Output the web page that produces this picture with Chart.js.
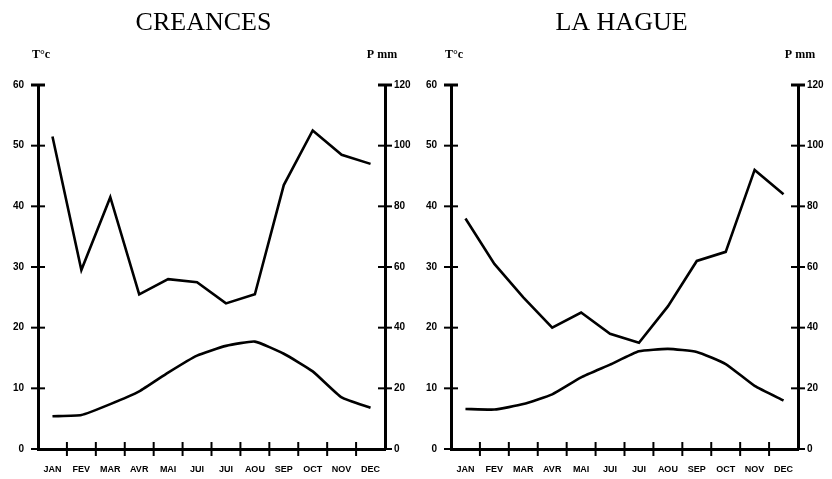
<!DOCTYPE html>
<html>
<head>
<meta charset="utf-8">
<script src="https://cdn.jsdelivr.net/npm/chart.js@4.4.1/dist/chart.umd.min.js"></script>
<style>
  html, body { margin: 0; padding: 0; background: #fff; }
  #wrap { position: relative; width: 832px; height: 479px; }
  canvas { position: absolute; top: 0; }
</style>
</head>
<body>
<div id="wrap">
  <canvas id="creances" width="416" height="479" style="left:0"></canvas>
  <canvas id="hague" width="416" height="479" style="left:416px"></canvas>
</div>
<script>
const months = ['JAN', 'FEV', 'MAR', 'AVR', 'MAI', 'JUI', 'JUI', 'AOU', 'SEP', 'OCT', 'NOV', 'DEC'];

const creancesTemp = [5.4, 5.6, 7.4, 9.5, 12.6, 15.4, 17.0, 17.7, 15.7, 12.8, 8.5, 6.8];
const creancesRain = [103, 59, 83, 51, 56, 55, 48, 51, 87, 105, 97, 94];

const hagueTemp = [6.6, 6.5, 7.4, 9.0, 11.8, 13.9, 16.1, 16.5, 16.0, 14.0, 10.4, 8.0];
const hagueRain = [76, 61, 50, 40, 45, 38, 35, 47, 62, 65, 92, 84];

const tempTicks = [0, 10, 20, 30, 40, 50, 60];
const rainTicks = [0, 20, 40, 60, 80, 100, 120];

// station name, axis titles and the crossing tick marks
const decor = {
    id: 'decor',
    afterDraw(chart, args, opts) {
        const ctx = chart.ctx;
        const area = chart.chartArea;
        const x = chart.scales.x, y = chart.scales.y, y1 = chart.scales.y1;
        ctx.save();
        ctx.fillStyle = '#000';
        ctx.strokeStyle = '#000';
        ctx.textAlign = 'center';
        ctx.textBaseline = 'middle';
        ctx.font = '26px "Liberation Serif"';
        ctx.fillText(opts.name, (area.left + area.right) / 2 + opts.shift, 23);
        ctx.font = 'bold 12px "Liberation Serif"';
        ctx.fillText('T°c', area.left + 3, 55);
        ctx.fillText('P mm', area.right + opts.pShift, 55);

        ctx.lineCap = 'butt';
        tempTicks.forEach(v => {
            const py = y.getPixelForValue(v);
            ctx.lineWidth = v === 60 ? 3 : 2;
            ctx.beginPath();
            ctx.moveTo(area.left - 7, py);
            ctx.lineTo(area.left + 7, py);
            ctx.stroke();
        });
        rainTicks.forEach(v => {
            const py = y1.getPixelForValue(v);
            ctx.lineWidth = v === 120 ? 3 : 2;
            ctx.beginPath();
            ctx.moveTo(area.right - 7, py);
            ctx.lineTo(area.right + 7, py);
            ctx.stroke();
        });
        ctx.lineWidth = 2;
        for (let i = 0; i < months.length - 1; i++) {
            const px = x.getPixelForValue(i + 0.5);
            ctx.beginPath();
            ctx.moveTo(px, area.bottom - 7);
            ctx.lineTo(px, area.bottom + 7);
            ctx.stroke();
        }
        ctx.restore();
    }
};

function makeChart(id, name, temp, rain, leftW, rightW, shift, pShift) {
    return new Chart(document.getElementById(id), {
        type: 'line',
        data: {
            labels: months,
            datasets: [
                {
                    label: 'P mm',
                    data: rain,
                    yAxisID: 'y1',
                    borderColor: '#000',
                    borderWidth: 2.6,
                    pointRadius: 0,
                    tension: 0
                },
                {
                    label: 'T°c',
                    data: temp,
                    yAxisID: 'y',
                    borderColor: '#000',
                    borderWidth: 2.6,
                    pointRadius: 0,
                    tension: 0.15
                }
            ]
        },
        options: {
            responsive: false,
            animation: false,
            devicePixelRatio: 1,
            layout: { padding: { top: 85, bottom: 0, left: 0, right: 0 } },
            plugins: {
                legend: { display: false },
                tooltip: { enabled: false },
                decor: { name: name, shift: shift, pShift: pShift }
            },
            scales: {
                x: {
                    offset: true,
                    grid: { display: false, drawTicks: false },
                    border: { display: true, color: '#000', width: 3 },
                    ticks: {
                        color: '#000',
                        padding: 15,
                        maxRotation: 0,
                        autoSkip: false,
                        font: { family: 'Liberation Sans', size: 9, weight: 'bold' }
                    },
                    afterFit(s) { s.height = 30; }
                },
                y: {
                    position: 'left',
                    min: 0, max: 60,
                    grid: { display: false, drawTicks: false },
                    border: { display: true, color: '#000', width: 3 },
                    ticks: {
                        stepSize: 10,
                        color: '#000',
                        padding: 14,
                        font: { family: 'Liberation Sans', size: 10, weight: 'bold' }
                    },
                    afterFit(s) { s.width = leftW; }
                },
                y1: {
                    position: 'right',
                    min: 0, max: 120,
                    grid: { display: false, drawTicks: false },
                    border: { display: true, color: '#000', width: 3 },
                    ticks: {
                        stepSize: 20,
                        color: '#000',
                        padding: 9,
                        font: { family: 'Liberation Sans', size: 10, weight: 'bold' }
                    },
                    afterFit(s) { s.width = rightW; }
                }
            }
        },
        plugins: [decor]
    });
}

makeChart('creances', 'CREANCES', creancesTemp, creancesRain, 38, 31, -8, -3);
makeChart('hague', 'LA HAGUE', hagueTemp, hagueRain, 35, 34, -3, 2);
</script>
</body>
</html>
